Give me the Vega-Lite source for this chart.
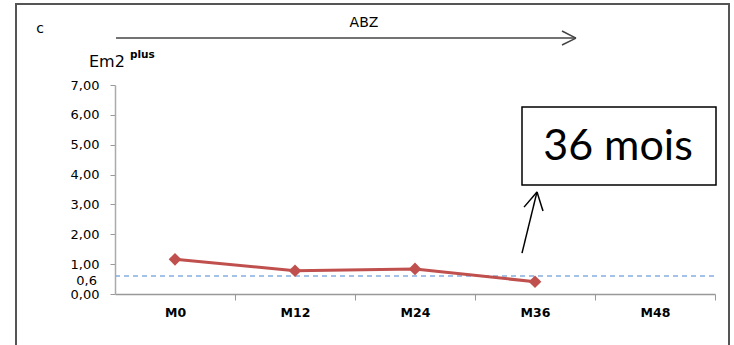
{
  "$schema": "https://vega.github.io/schema/vega-lite/v6.json",
  "width": 600,
  "height": 209,
  "autosize": {"type": "none"},
  "padding": {"left": 115, "top": 85, "right": 19, "bottom": 51},
  "background": "white",
  "config": {"view": {"stroke": null}, "axis": {"grid": false}},
  "encoding": {
    "x": {"field": "x", "type": "quantitative", "scale": {"domain": [-6, 54], "nice": false, "zero": false},
      "axis": {
        "values": [0, 6, 12, 18, 24, 30, 36, 42, 48, 54],
        "labelExpr": "datum.value % 12 === 0 ? 'M' + datum.value : ''",
        "tickOpacity": {"condition": {"test": "datum.value % 12 === 0", "value": 0}, "value": 1},
        "tickSize": 6, "tickColor": "#999999", "domainColor": "#999999", "domainWidth": 1.5,
        "labelPadding": 6, "labelFont": "DejaVu Sans",
        "labelFontSize": 12.5, "labelFontWeight": "bold", "labelColor": "black",
        "title": null, "labelOverlap": false, "labelBound": false
      }},
    "y": {"field": "y", "type": "quantitative", "scale": {"domain": [0, 7], "nice": false, "zero": false},
      "axis": {
        "values": [0, 1, 2, 3, 4, 5, 6, 7],
        "labelExpr": "replace(format(datum.value, '.2f'), '.', ',')",
        "tickSize": 5, "tickColor": "#999999", "domainColor": "#aaaaaa", "domainWidth": 1.5,
        "labelPadding": 11, "labelFont": "DejaVu Sans",
        "labelFontSize": 13, "labelColor": "black", "title": null, "labelOverlap": false
      }}
  },
  "layer": [
    {
      "data": {"values": [{"x": -15.9, "x2": 55.4, "y": 9.71, "y2": -3}]},
      "mark": {"type": "rect", "fillOpacity": 0, "stroke": "#555555", "strokeWidth": 2},
      "encoding": {"x2": {"field": "x2"}, "y2": {"field": "y2"}}
    },
    {
      "data": {"values": [{"x": -6, "x2": 54, "y": 0.6}]},
      "mark": {"type": "rule", "color": "#86ADE0", "strokeWidth": 1.5, "strokeDash": [5, 4]},
      "encoding": {"x2": {"field": "x2"}}
    },
    {
      "data": {"values": [
        {"x": 0, "y": 1.16},
        {"x": 12, "y": 0.78},
        {"x": 24, "y": 0.84},
        {"x": 36, "y": 0.41}
      ]},
      "mark": {"type": "line", "color": "#C0504D", "strokeWidth": 3,
        "point": {"shape": "diamond", "size": 160, "filled": true, "color": "#C0504D"}},
      "encoding": {}
    },
    {
      "data": {"values": [{"x": 34.7, "x2": 54.1, "y": 6.26, "y2": 3.65}]},
      "mark": {"type": "rect", "fill": "white", "stroke": "black", "strokeWidth": 1.5},
      "encoding": {"x2": {"field": "x2"}, "y2": {"field": "y2"}}
    },
    {
      "data": {"values": [{"x": 44.3, "y": 4.92, "t": "36 mois"}]},
      "mark": {"type": "text", "font": "Lato, Open Sans, sans-serif", "fontSize": 43, "align": "center", "baseline": "middle", "color": "black"},
      "encoding": {"text": {"field": "t"}}
    },
    {
      "data": {"values": [
        {"x": -5.9, "y": 8.57, "x2": 40.1, "y2": 8.57, "g": "top"},
        {"x": 38.7, "y": 8.81, "x2": 40.1, "y2": 8.57, "g": "top"},
        {"x": 38.7, "y": 8.34, "x2": 40.1, "y2": 8.57, "g": "top"},
        {"x": 34.7, "y": 1.37, "x2": 36.2, "y2": 3.42, "g": "mois"},
        {"x": 34.9, "y": 2.91, "x2": 36.2, "y2": 3.42, "g": "mois"},
        {"x": 36.8, "y": 2.78, "x2": 36.2, "y2": 3.42, "g": "mois"}
      ]},
      "mark": {"type": "rule", "strokeWidth": 1.5},
      "encoding": {
        "x2": {"field": "x2"},
        "y2": {"field": "y2"},
        "color": {"field": "g", "type": "nominal", "scale": {"domain": ["top", "mois"], "range": ["#444444", "#000000"]}, "legend": null}
      }
    },
    {
      "data": {"values": [{"x": -13.5, "y": 8.88, "t": "c"}, {"x": 18.9, "y": 9.08, "t": "ABZ"}]},
      "mark": {"type": "text", "font": "DejaVu Sans", "fontSize": 14, "align": "center", "baseline": "middle", "color": "black"},
      "encoding": {"text": {"field": "t"}}
    },
    {
      "data": {"values": [{"x": -8.6, "y": 7.77, "t": "Em2"}]},
      "mark": {"type": "text", "font": "DejaVu Sans", "fontSize": 16, "align": "left", "baseline": "middle", "color": "black"},
      "encoding": {"text": {"field": "t"}}
    },
    {
      "data": {"values": [{"x": -4.5, "y": 8.02, "t": "plus"}]},
      "mark": {"type": "text", "font": "DejaVu Sans", "fontSize": 10.5, "fontWeight": "bold", "align": "left", "baseline": "middle", "color": "black"},
      "encoding": {"text": {"field": "t"}}
    },
    {
      "data": {"values": [{"x": -7.8, "y": 0.45, "t": "0,6"}]},
      "mark": {"type": "text", "font": "DejaVu Sans", "fontSize": 13, "align": "right", "baseline": "middle", "color": "black"},
      "encoding": {"text": {"field": "t"}}
    }
  ]
}
